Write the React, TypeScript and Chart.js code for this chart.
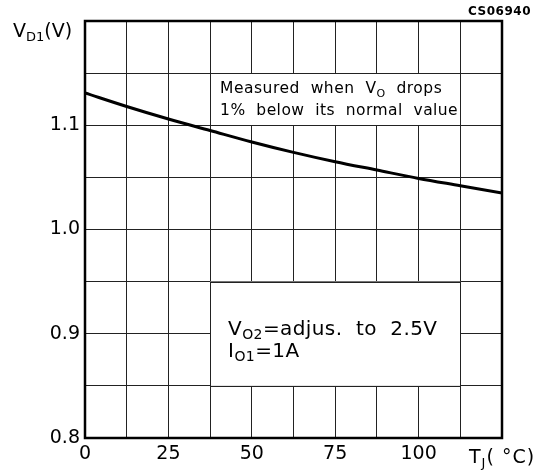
import { useEffect, useRef } from 'react';
import { Chart, registerables } from 'chart.js';

Chart.register(...registerables);

// ---- data ----
const temperatures = [0, 12.5, 25, 37.5, 50, 62.5, 75, 87.5, 100, 112.5, 125];
const vd1Values = [1.131, 1.118, 1.106, 1.095, 1.084, 1.074, 1.065, 1.057, 1.049, 1.042, 1.035];
const xLabeledTicks = [0, 25, 50, 75, 100];
const yLabeledTicks = [0.8, 0.9, 1.0, 1.1];
const xRange = [0, 125];
const yRange = [0.8, 1.2];
const chartCode = 'CS06940';

type Part = { t: string; sub?: boolean };

const FONT = '"DejaVu Sans", sans-serif';

function drawRich(ctx: CanvasRenderingContext2D, parts: Part[], x: number, y: number, size: number, subSize: number, spacing = 0) {
  let cx = x;
  for (const p of parts) {
    ctx.font = `${p.sub ? subSize : size}px ${FONT}`;
    (ctx as any).letterSpacing = `${spacing}px`;
    ctx.fillText(p.t, cx, p.sub ? y + size * 0.22 : y);
    cx += ctx.measureText(p.t).width;
  }
  (ctx as any).letterSpacing = '0px';
}

const decorPlugin = {
  id: 'decor',
  beforeDatasetsDraw(chart: any) {
    const { ctx, scales } = chart;
    const xs = scales.x, ys = scales.y;
    ctx.save();
    const box = (x0: number, x1: number, y0: number, y1: number) => {
      const l = xs.getPixelForValue(x0), r = xs.getPixelForValue(x1);
      const t = ys.getPixelForValue(y1), b = ys.getPixelForValue(y0);
      ctx.fillStyle = '#fff';
      ctx.fillRect(l, t, r - l, b - t);
      ctx.strokeStyle = '#222';
      ctx.lineWidth = 1;
      ctx.strokeRect(Math.round(l) + 0.5, Math.round(t) + 0.5, Math.round(r - l), Math.round(b - t));
      return { l, t, r, b };
    };
    const b1 = box(37.5, 112.5, 1.1, 1.15);
    ctx.fillStyle = '#000';
    ctx.textBaseline = 'alphabetic';
    ctx.textAlign = 'left';
    drawRich(ctx, [{ t: 'Measured  when  V' }, { t: 'O', sub: true }, { t: '  drops' }], b1.l + 10, b1.t + 20, 15.5, 11, 0.5);
    drawRich(ctx, [{ t: '1%  below  its  normal  value' }], b1.l + 10, b1.t + 42, 15.5, 11, 0.45);
    const b2 = box(37.5, 112.5, 0.85, 0.95);
    ctx.fillStyle = '#000';
    drawRich(ctx, [{ t: 'V' }, { t: 'O2', sub: true }, { t: '=adjus.  to  2.5V' }], b2.l + 18, b2.t + 53, 20, 14, 0.4);
    drawRich(ctx, [{ t: 'I' }, { t: 'O1', sub: true }, { t: '=1A' }], b2.l + 18, b2.t + 75, 20, 14, 0.4);
    ctx.restore();
  },
  afterDatasetsDraw(chart: any) {
    const { ctx, chartArea: a } = chart;
    ctx.save();
    ctx.strokeStyle = '#000';
    ctx.lineWidth = 2.5;
    ctx.strokeRect(a.left, a.top, a.right - a.left, a.bottom - a.top);
    ctx.fillStyle = '#000';
    ctx.textAlign = 'left';
    ctx.textBaseline = 'alphabetic';
    drawRich(ctx, [{ t: 'V' }, { t: 'D1', sub: true }, { t: '(V)' }], 13, 37, 19, 13);
    drawRich(ctx, [{ t: 'T' }, { t: 'J', sub: true }, { t: '( °C)' }], 469, 463, 19, 13, 1);
    ctx.font = `bold 12px ${FONT}`;
    (ctx as any).letterSpacing = '0.5px';
    ctx.textAlign = 'right';
    ctx.fillText(chartCode, 531, 15);
    ctx.restore();
  },
};

export default function App() {
  const ref = useRef<HTMLCanvasElement>(null);
  useEffect(() => {
    if (!ref.current) return;
    const chart = new Chart(ref.current, {
      type: 'line',
      data: {
        datasets: [
          {
            data: temperatures.map((t, i) => ({ x: t, y: vd1Values[i] })),
            borderColor: '#000',
            borderWidth: 3,
            pointRadius: 0,
            tension: 0.4,
            cubicInterpolationMode: 'monotone',
            fill: false,
          },
        ],
      },
      options: {
        animation: false,
        responsive: false,
        events: [],
        layout: { padding: { left: 0, top: 21, right: 47, bottom: 0 } },
        plugins: { legend: { display: false }, tooltip: { enabled: false } },
        scales: {
          x: {
            type: 'linear',
            min: xRange[0],
            max: xRange[1],
            afterFit: (s: any) => { s.height = 33; },
            afterBuildTicks: (s: any) => {
              const ticks = [];
              for (let v = xRange[0]; v <= xRange[1] + 1e-9; v += 12.5) ticks.push({ value: v });
              s.ticks = ticks;
            },
            ticks: {
              autoSkip: false,
              maxRotation: 0,
              padding: 5,
              color: '#000',
              font: { family: FONT, size: 19 },
              callback: (v: any) => (xLabeledTicks.includes(Number(v)) ? String(v) : ''),
            },
            grid: { color: '#222', lineWidth: 1, drawTicks: false },
            border: { display: false },
          },
          y: {
            type: 'linear',
            min: yRange[0],
            max: yRange[1],
            afterFit: (s: any) => { s.width = 85; },
            afterBuildTicks: (s: any) => {
              const ticks = [];
              for (let i = 0; i <= 8; i++) ticks.push({ value: Math.round((yRange[0] + i * 0.05) * 100) / 100 });
              s.ticks = ticks;
            },
            ticks: {
              autoSkip: false,
              padding: 5,
              color: '#000',
              font: { family: FONT, size: 19 },
              callback: (v: any) => {
                const n = Math.round(Number(v) * 100) / 100;
                return yLabeledTicks.some((t) => Math.abs(t - n) < 1e-6) ? n.toFixed(1) : '';
              },
            },
            grid: { color: '#222', lineWidth: 1, drawTicks: false },
            border: { display: false },
          },
        },
      },
      plugins: [decorPlugin],
    });
    return () => chart.destroy();
  }, []);
  return (
    <div style={{ position: 'absolute', left: 0, top: 0, width: 549, height: 471, background: '#fff' }}>
      <canvas ref={ref} width={549} height={471} />
    </div>
  );
}
